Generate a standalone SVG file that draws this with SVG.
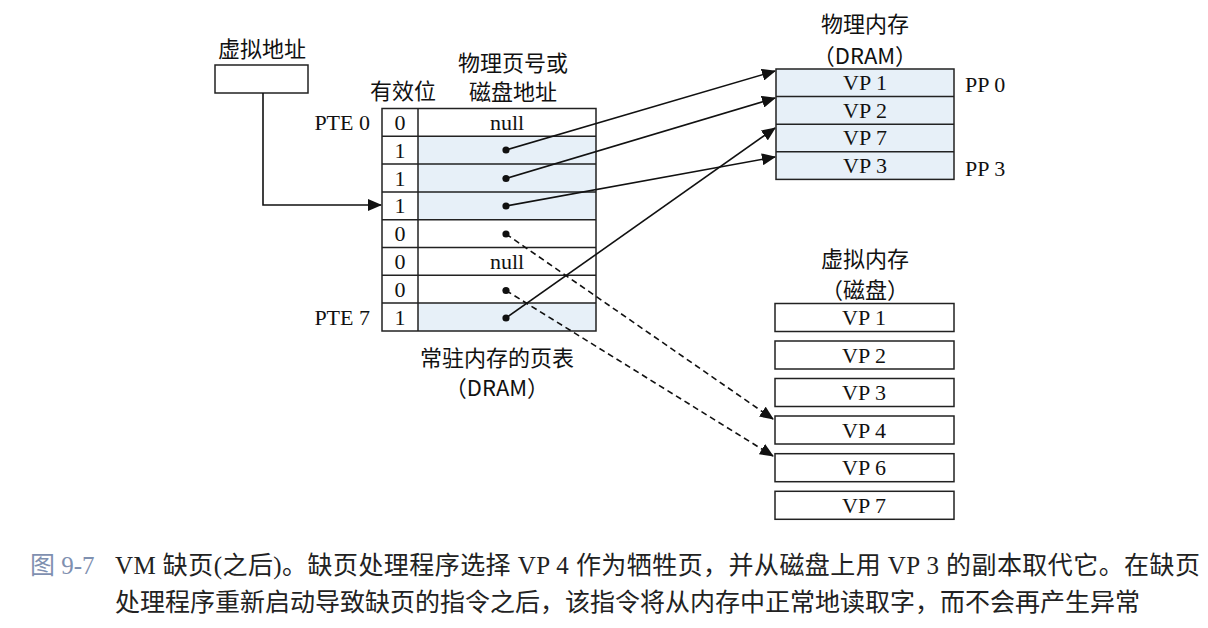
<svg xmlns="http://www.w3.org/2000/svg" width="1208" height="628" viewBox="0 0 1208 628">
<style>
.lbl{font-family:"Liberation Serif","Noto Sans CJK SC",serif;font-size:22px;fill:#111}
.cjk{font-family:"Noto Sans CJK SC","Liberation Serif",sans-serif;font-size:22px;fill:#111}
.cap{font-family:"Liberation Serif","Noto Sans CJK SC",serif;font-size:25px;fill:#222}
.box{fill:#fff;stroke:#222;stroke-width:1.5}
.blue{fill:#e7f0f8;stroke:none}
.ln{stroke:#222;stroke-width:1.5;fill:none}
.conn{stroke:#111;stroke-width:1.6;fill:none}
.dash{stroke-dasharray:6 4}
.mid{text-anchor:middle}
.end{text-anchor:end}
</style>
<defs>
<marker id="ah" markerUnits="userSpaceOnUse" markerWidth="14" markerHeight="12" refX="13" refY="6" orient="auto">
<path d="M0,0 L14,6 L0,12 Z" fill="#111"/>
</marker>
</defs>
<rect width="1208" height="628" fill="#fff"/>

<g id="virtual-address">
<text class="cjk mid" x="262" y="57">虚拟地址</text>
<rect class="box" x="215" y="65" width="93" height="28"/>
</g>

<g id="page-table">
<text class="cjk mid" x="513" y="71">物理页号或</text>
<text class="cjk mid" x="403" y="99">有效位</text>
<text class="cjk mid" x="513" y="100">磁盘地址</text>
<rect class="blue" x="418" y="136.3" width="178" height="83.4"/>
<rect class="blue" x="418" y="303.2" width="178" height="27.8"/>
<rect class="box" x="382" y="108.5" width="214" height="222.5" style="fill:none"/>
<path class="ln" d="M418,108.5V331 M382,136.3H596 M382,164.1H596 M382,191.9H596 M382,219.7H596 M382,247.5H596 M382,275.3H596 M382,303.1H596"/>
<text class="lbl end" x="370" y="130">PTE 0</text>
<text class="lbl end" x="370" y="325">PTE 7</text>
<g class="lbl mid">
<text x="400" y="130">0</text>
<text x="400" y="158">1</text>
<text x="400" y="186">1</text>
<text x="400" y="213">1</text>
<text x="400" y="241">0</text>
<text x="400" y="269">0</text>
<text x="400" y="297">0</text>
<text x="400" y="325">1</text>
<text x="507" y="130">null</text>
<text x="507" y="269">null</text>
</g>
<g fill="#111">
<circle cx="506" cy="150" r="3.6"/>
<circle cx="506" cy="178.5" r="3.6"/>
<circle cx="506" cy="206" r="3.6"/>
<circle cx="506" cy="234" r="3.6"/>
<circle cx="506" cy="290.5" r="3.6"/>
<circle cx="506" cy="318" r="3.6"/>
</g>
<text class="cjk mid" x="497" y="366">常驻内存的页表</text>
<text class="cjk mid" x="497" y="396">（DRAM）</text>
</g>

<g id="physical-memory">
<text class="cjk mid" x="865" y="32">物理内存</text>
<text class="cjk mid" x="865" y="64">（DRAM）</text>
<rect class="blue" x="776" y="69" width="178" height="110.4"/>
<rect class="box" x="776" y="69" width="178" height="110.4" style="fill:none"/>
<path class="ln" d="M776,96.6H954 M776,124.2H954 M776,151.8H954"/>
<g class="lbl mid">
<text x="865" y="90">VP 1</text>
<text x="865" y="118">VP 2</text>
<text x="865" y="145">VP 7</text>
<text x="865" y="173">VP 3</text>
</g>
<text class="lbl" x="965" y="92">PP 0</text>
<text class="lbl" x="965" y="176">PP 3</text>
</g>

<g id="virtual-memory">
<text class="cjk mid" x="865" y="267">虚拟内存</text>
<text class="cjk mid" x="865" y="298">（磁盘）</text>
<rect class="box" x="775" y="303.5" width="179" height="28"/>
<rect class="box" x="775" y="341" width="179" height="28"/>
<rect class="box" x="775" y="378.5" width="179" height="28"/>
<rect class="box" x="775" y="416" width="179" height="28"/>
<rect class="box" x="775" y="453.7" width="179" height="28"/>
<rect class="box" x="775" y="491.3" width="179" height="28"/>
<g class="lbl mid">
<text x="864" y="325">VP 1</text>
<text x="864" y="363">VP 2</text>
<text x="864" y="400">VP 3</text>
<text x="864" y="438">VP 4</text>
<text x="864" y="475">VP 6</text>
<text x="864" y="513">VP 7</text>
</g>
</g>

<g id="connectors">
<path class="conn" d="M263,93V205H381" marker-end="url(#ah)"/>
<path class="conn" d="M506,150L775,71" marker-end="url(#ah)"/>
<path class="conn" d="M506,178.5L775,98" marker-end="url(#ah)"/>
<path class="conn" d="M506,206L775,157" marker-end="url(#ah)"/>
<path class="conn" d="M506,318L775,128" marker-end="url(#ah)"/>
<path class="conn dash" d="M506,234L773,419" marker-end="url(#ah)"/>
<path class="conn dash" d="M506,290.5L773,456" marker-end="url(#ah)"/>
</g>

<g id="caption">
<text class="cap" x="30" y="574" style="fill:#7f90b0">图 9-7</text>
<text class="cap" x="115" y="574" textLength="1085" lengthAdjust="spacing">VM 缺页(之后)。缺页处理程序选择 VP 4 作为牺牲页，并从磁盘上用 VP 3 的副本取代它。在缺页</text>
<text class="cap" x="115" y="611">处理程序重新启动导致缺页的指令之后，该指令将从内存中正常地读取字，而不会再产生异常</text>
</g>
</svg>
